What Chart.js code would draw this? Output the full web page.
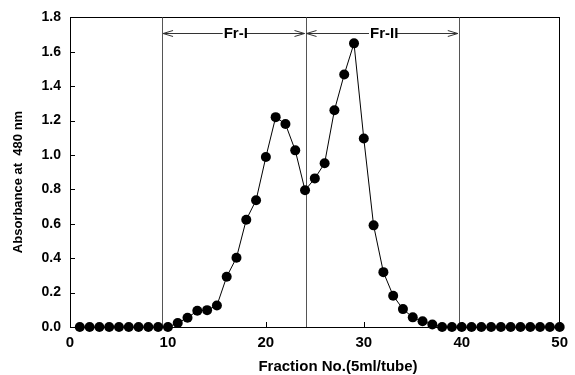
<!DOCTYPE html>
<html><head><meta charset="utf-8">
<script src="https://cdn.jsdelivr.net/npm/chart.js@4/dist/chart.umd.min.js"></script>
<style>html,body{margin:0;padding:0;background:#fff}#wrap{width:575px;height:375px}</style>
</head><body><div id="wrap"><canvas id="c" width="575" height="375"></canvas></div>
<script>
// ---- data ----
const fractions = [1,2,3,4,5,6,7,8,9,10,11,12,13,14,15,16,17,18,19,20,21,22,23,24,25,26,27,28,29,30,31,32,33,34,35,36,37,38,39,40,41,42,43,44,45,46,47,48,49,50];
const absorbance = [0,0,0,0,0,0,0,0,0,0,
  0.023,0.054,0.094,0.098,0.125,0.292,0.403,0.624,0.737,0.988,
  1.22,1.18,1.027,0.795,0.864,0.952,1.26,1.468,1.649,1.096,
  0.591,0.319,0.182,0.104,0.056,0.033,0.015,0,0,0,
  0,0,0,0,0,0,0,0,0,0];
const xTicks = [0,10,20,30,40,50];
const yTicks = [0,0.2,0.4,0.6,0.8,1.0,1.2,1.4,1.6,1.8];
const boundaries = [9.4, 24.05, 39.7];
const fractionLabels = ['Fr-I','Fr-II'];
const arrowLevel = 1.708;
const xTitle = 'Fraction No.(5ml/tube)';
const yTitle = 'Absorbance at  480 nm';

const FONT = '"Liberation Sans", Arial, sans-serif';

const decor = {
  id: 'decor',
  beforeDatasetsDraw(chart) {
    const {ctx, chartArea: a, scales: {x, y}} = chart;
    ctx.save();
    // frame
    ctx.strokeStyle = '#000';
    ctx.lineWidth = 1;
    ctx.strokeRect(Math.round(a.left) + 0.5, Math.round(a.top) + 0.5, Math.round(a.right - a.left) - 1, Math.round(a.bottom - a.top));
    // inward ticks
    ctx.beginPath();
    xTicks.forEach(v => {
      const px = Math.round(x.getPixelForValue(v)) + 0.5;
      ctx.moveTo(px, a.bottom); ctx.lineTo(px, a.bottom - 5);
    });
    yTicks.forEach(v => {
      const py = Math.round(y.getPixelForValue(v)) + 0.5;
      ctx.moveTo(a.left, py); ctx.lineTo(a.left + 5, py);
    });
    ctx.stroke();
    // boundary lines
    ctx.strokeStyle = '#555';
    ctx.beginPath();
    boundaries.forEach(v => {
      const px = Math.round(x.getPixelForValue(v)) + 0.5;
      ctx.moveTo(px, a.top); ctx.lineTo(px, a.bottom);
    });
    ctx.stroke();
    // arrows with labels
    const ay = Math.round(y.getPixelForValue(arrowLevel)) + 0.5;
    ctx.font = 'bold 15px ' + FONT;
    ctx.textBaseline = 'middle';
    ctx.textAlign = 'center';
    for (let i = 0; i < fractionLabels.length; i++) {
      const x0 = x.getPixelForValue(boundaries[i]) + 1;
      const x1 = x.getPixelForValue(boundaries[i + 1]) - 1;
      const cx = (x0 + x1) / 2 + 2;
      const w = ctx.measureText(fractionLabels[i]).width;
      ctx.strokeStyle = '#333';
      ctx.beginPath();
      ctx.moveTo(x0, ay); ctx.lineTo(cx - w / 2 - 1, ay);
      ctx.moveTo(cx + w / 2 - 2, ay); ctx.lineTo(x1, ay);
      // arrowheads
      ctx.moveTo(x0 + 10, ay - 3); ctx.lineTo(x0, ay); ctx.lineTo(x0 + 10, ay + 3);
      ctx.moveTo(x1 - 10, ay - 3); ctx.lineTo(x1, ay); ctx.lineTo(x1 - 10, ay + 3);
      ctx.stroke();
      ctx.fillStyle = '#000';
      ctx.fillText(fractionLabels[i], cx, ay);
    }
    // titles
    ctx.fillStyle = '#000';
    ctx.font = 'bold 15px ' + FONT;
    ctx.fillText(xTitle, 338, 367);
    ctx.translate(18, 182);
    ctx.rotate(-Math.PI / 2);
    ctx.font = 'bold 13px ' + FONT;
    ctx.fillText(yTitle, 0, 0);
    ctx.restore();
  }
};

new Chart(document.getElementById('c'), {
  type: 'line',
  data: {
    datasets: [{
      data: fractions.map((f, i) => ({x: f, y: absorbance[i]})),
      borderColor: '#000',
      borderWidth: 1,
      pointRadius: 5,
      pointBackgroundColor: '#000',
      pointBorderColor: '#000',
      pointBorderWidth: 0,
      tension: 0,
      clip: false
    }]
  },
  options: {
    responsive: false,
    animation: false,
    devicePixelRatio: 1,
    layout: {padding: {top: 14, right: 8, left: 0, bottom: 0}},
    plugins: {legend: {display: false}, tooltip: {enabled: false}},
    scales: {
      x: {
        type: 'linear', min: 0, max: 50,
        afterFit: s => { s.height = 48; },
        afterBuildTicks: s => { s.ticks = xTicks.map(v => ({value: v})); },
        grid: {display: false, drawTicks: false},
        border: {display: false},
        ticks: {color: '#000', padding: 7, font: {family: FONT, size: 15, weight: 'bold'}, maxRotation: 0}
      },
      y: {
        min: 0, max: 1.8,
        afterFit: s => { s.width = 70; },
        afterBuildTicks: s => { s.ticks = yTicks.map(v => ({value: v})); },
        grid: {display: false, drawTicks: false},
        border: {display: false},
        ticks: {color: '#000', padding: 9, font: {family: FONT, size: 14, weight: 'bold'}, callback: v => Number(v).toFixed(1)}
      }
    }
  },
  plugins: [decor]
});
</script>
</body></html>
